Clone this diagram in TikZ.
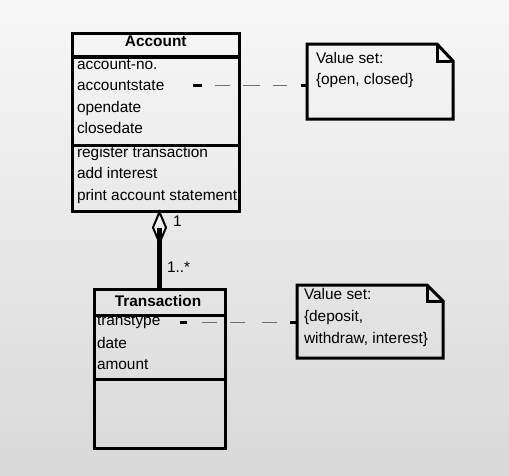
\documentclass[tikz,border=0pt]{standalone}
\usepackage{fontspec}
\setmainfont{Liberation Sans}
\usetikzlibrary{shapes.geometric}
\begin{document}
\begin{tikzpicture}[x=1pt,y=-1pt,
  every node/.style={font=\fontsize{15.4}{18}\selectfont, inner sep=0pt, outer sep=0pt, text=black},
  umlbox/.style={draw=black, line width=3pt, rectangle, anchor=north west},
  notebox/.style={rectangle, anchor=north west, minimum width=#1},
  boxline/.style={draw=black, line width=3pt, line join=miter},
  sepline/.style={draw=black, line width=3pt},
  txt/.style={anchor=base west},
  ttl/.style={anchor=base, font=\fontsize{15.4}{18}\selectfont\bfseries},
  stub/.style={draw=black, line width=3pt},
  greydash/.style={draw=black!57, line width=1.4pt},
  assocline/.style={draw=black, line width=4.5pt},
  aggr/.style={diamond, draw=black, line width=2pt, fill=black!7, minimum width=13pt, minimum height=31pt, inner sep=0pt, anchor=north}
]
\shade[top color=black!3, bottom color=black!15] (0,0) rectangle (509,475);
\useasboundingbox (0,0) rectangle (509,475);

% Account class
\node[umlbox, minimum width=166.5pt, minimum height=178pt] (account) at (72.5,33.5) {};
\node[ttl] (accttl) at (155.75,46) {Account};
\draw[sepline, line width=4pt] (account.west |- 0,56.5) -- (account.east |- 0,56.5);
\draw[sepline] (account.west |- 0,145) -- (account.east |- 0,145);
\node[txt] (a1) at (77,69) {account-no.};
\node[txt] (a2) at (77,90) {accountstate};
\node[txt] (a3) at (77,112) {opendate};
\node[txt] (a4) at (77,133) {closedate};
\node[txt] (o1) at (77,157) {register transaction};
\node[txt] (o2) at (77,178) {add interest};
\node[txt] (o3) at (77,200) {print account statement};

% Transaction class
\node[umlbox, minimum width=130.6pt, minimum height=158.5pt] (trans) at (94.7,289.5) {};
\node[ttl] (transttl) at (158,306) {Transaction};
\draw[sepline] (trans.west |- 0,315) -- (trans.east |- 0,315);
\draw[sepline] (trans.west |- 0,379.5) -- (trans.east |- 0,379.5);
\node[txt] (t1) at (97,325) {transtype};
\node[txt] (t2) at (97,348) {date};
\node[txt] (t3) at (97,369) {amount};

% Note 1
\node[notebox=146pt, minimum height=75pt] (n1) at (307,44) {};
\draw[boxline] (n1.north west) -- ([xshift=-16pt]n1.north east) -- ([yshift=-17pt]n1.north east) -- (n1.south east) -- (n1.south west) -- cycle;
\draw[boxline] ([xshift=-16pt]n1.north east) -- ([xshift=-16pt,yshift=-17pt]n1.north east) -- ([yshift=-17pt]n1.north east);
\node[txt] (n1a) at (316,63) {Value set:};
\node[txt] (n1b) at (316,84) {\{open, closed\}};

% Note 2
\node[notebox=146pt, minimum height=73pt] (n2) at (297,285) {};
\draw[boxline] (n2.north west) -- ([xshift=-16pt]n2.north east) -- ([yshift=-16pt]n2.north east) -- (n2.south east) -- (n2.south west) -- cycle;
\draw[boxline] ([xshift=-16pt]n2.north east) -- ([xshift=-16pt,yshift=-16pt]n2.north east) -- ([yshift=-16pt]n2.north east);
\node[txt] (n2a) at (304,299) {Value set:};
\node[txt] (n2b) at (304,321) {\{deposit,};
\node[txt] (n2c) at (304,343) {withdraw, interest\}};

% Dashed note connectors
\coordinate (c1) at (193,85.5);
\draw[stub] (c1) -- ++(9,0);
\draw[greydash, dash pattern=on 15pt off 13pt on 17pt off 13pt on 15pt off 40pt] ([xshift=22pt]c1) -- ([xshift=-20pt]n1.west |- c1);
\draw[stub] ([xshift=-6pt]n1.west |- c1) -- (n1.west |- c1);

\coordinate (c2) at (180,322.5);
\draw[stub] (c2) -- ++(7,0);
\draw[greydash, dash pattern=on 15pt off 13pt on 15pt off 17pt on 15pt off 40pt] ([xshift=22pt]c2) -- ([xshift=-20pt]n2.west |- c2);
\draw[stub] ([xshift=-7pt]n2.west |- c2) -- (n2.west |- c2);

% Aggregation
\coordinate (dtop) at (159.5,212);
\node[aggr] (dia) at (dtop) {};
\draw[assocline] (dia.center) -- (dia.center |- trans.north);
\node[txt] (m1) at (173,226) {1};
\node[txt] (m2) at (167,272) {1..*};
\end{tikzpicture}
\end{document}
